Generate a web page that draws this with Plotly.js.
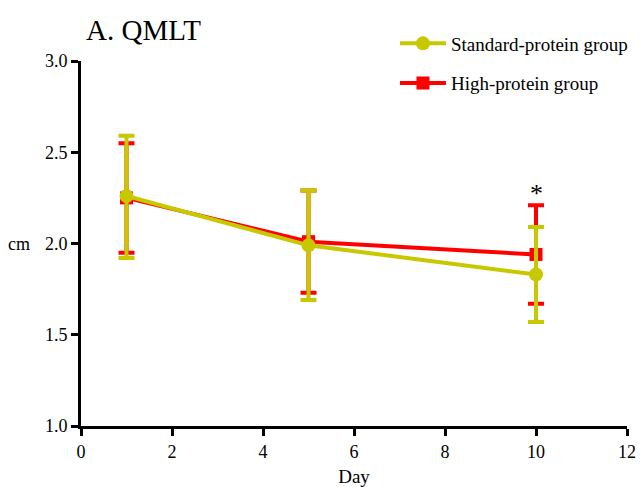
<!DOCTYPE html>
<html><head><meta charset="utf-8">
<script src="https://cdn.plot.ly/plotly-3.0.1.min.js"></script>
<style>body{margin:0;padding:0;background:#fff}#chart{width:640px;height:487px}</style>
</head><body><div id="chart"></div>
<script>
const days = [1, 5, 10];
const standardMean = [2.26, 1.99, 1.83];
const standardUpper = [2.59, 2.29, 2.09];
const standardLower = [1.92, 1.69, 1.57];
const highMean = [2.25, 2.01, 1.94];
const highUpper = [2.55, 2.29, 2.21];
const highLower = [1.95, 1.73, 1.67];
const xTicks = [0, 2, 4, 6, 8, 10, 12];
const yTicks = [1.0, 1.5, 2.0, 2.5, 3.0];

const font = 'Liberation Serif';
const green = '#c8c800';
const red = '#ff0000';

function errs(mean, up, lo) {
  return {
    type: 'data', symmetric: false,
    array: mean.map((m, i) => up[i] - m),
    arrayminus: mean.map((m, i) => m - lo[i])
  };
}

const traces = [
  {
    x: days, y: highMean, name: 'High-protein group', type: 'scatter', mode: 'lines+markers',
    line: {color: red, width: 4}, marker: {symbol: 'square', size: 13, color: red},
    error_y: Object.assign(errs(highMean, highUpper, highLower), {color: red, thickness: 4, width: 8}),
    legendrank: 2, legendgroup: 'h'
  },
  {
    x: days, y: standardMean, name: 'Standard-protein group', type: 'scatter', mode: 'lines+markers',
    line: {color: green, width: 4}, marker: {symbol: 'circle', size: 14, color: green},
    error_y: Object.assign(errs(standardMean, standardUpper, standardLower), {color: green, thickness: 4, width: 8}),
    legendrank: 1, legendgroup: 's'
  }
];

const layout = {
  width: 640, height: 487,
  margin: {l: 81, r: 13, t: 61, b: 61, autoexpand: false},
  paper_bgcolor: '#fff', plot_bgcolor: '#fff',
  font: {family: font, size: 18, color: '#000'},
  showlegend: true,
  legend: {x: 0.575, y: 1.10, xanchor: 'left', yanchor: 'top', font: {family: font, size: 19},
           traceorder: 'grouped', tracegroupgap: 12, itemwidth: 46, bgcolor: 'rgba(0,0,0,0)'},
  xaxis: {
    range: [0, 12], tickvals: xTicks, ticktext: xTicks.map(String),
    showline: true, linecolor: '#000', linewidth: 3, ticks: 'outside', ticklen: 7, tickwidth: 3, tickcolor: '#000',
    showgrid: false, zeroline: false, tickfont: {family: font, size: 18}, automargin: false,
    title: {text: 'Day', font: {family: font, size: 19}, standoff: 10}
  },
  yaxis: {
    range: [1.0, 3.0], tickvals: yTicks, ticktext: yTicks.map(v => v.toFixed(1)),
    showline: true, linecolor: '#000', linewidth: 3, ticks: 'outside', ticklen: 7, tickwidth: 3, tickcolor: '#000',
    showgrid: false, zeroline: false, tickfont: {family: font, size: 18}, automargin: false
  },
  annotations: [
    {text: 'A. QMLT', xref: 'paper', yref: 'paper', x: 0.005, y: 1.085, xanchor: 'left', yanchor: 'middle', showarrow: false,
     font: {family: font, size: 29}},
    {text: 'cm', xref: 'paper', yref: 'paper', x: 0, xshift: -62, y: 0.5, xanchor: 'center', yanchor: 'middle', showarrow: false,
     font: {family: font, size: 18}},
    {text: '*', x: 10, y: highUpper[2], yshift: 12, showarrow: false, font: {family: font, size: 26}}
  ]
};

Plotly.newPlot('chart', traces, layout, {displayModeBar: false, staticPlot: true});
</script></body></html>
